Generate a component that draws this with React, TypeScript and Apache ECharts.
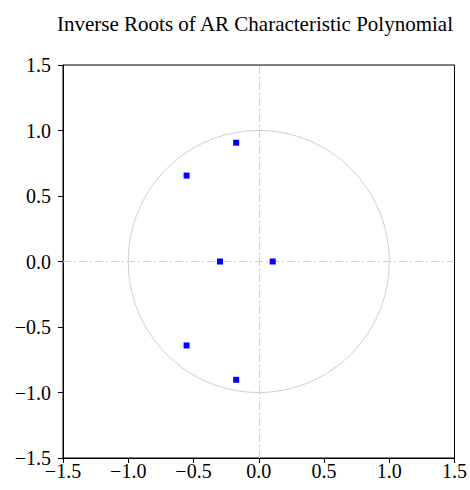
import React, { useEffect, useRef } from "react";
import * as echarts from "echarts";

const titleText = "Inverse Roots of AR Characteristic Polynomial";
const rootRe = [-0.173, -0.553, -0.297, 0.107, -0.553, -0.173];
const rootIm = [0.907, 0.656, 0.0, 0.0, -0.641, -0.903];
const axisTicks = [-1.5, -1.0, -0.5, 0.0, 0.5, 1.0, 1.5];
const unitRadius = [1];

const fmt = (v: number) => {
  const s = Math.abs(v).toFixed(1);
  return v < -1e-9 ? "\u2212" + s : s;
};

export default function App() {
  const ref = useRef<HTMLDivElement>(null);
  useEffect(() => {
    if (!ref.current) return;
    const chart = echarts.init(ref.current, undefined, { renderer: "svg" });
    const font = "'Liberation Serif', 'Times New Roman', serif";
    const axisCommon = {
      type: "value" as const,
      min: axisTicks[0],
      max: axisTicks[axisTicks.length - 1],
      interval: 0.5,
      axisLine: { show: true, onZero: false, lineStyle: { color: "#000", width: 1 } },
      axisTick: { show: true, inside: false, length: 5, lineStyle: { color: "#000" } },
      axisLabel: { color: "#000", fontFamily: font, fontSize: 20, formatter: fmt },
      splitLine: { show: false },
    };
    chart.setOption({
      animation: false,
      backgroundColor: "#fff",
      title: {
        text: titleText,
        left: 250,
        top: 8,
        textAlign: "center",
        textStyle: { fontFamily: font, fontSize: 21, fontWeight: "normal", color: "#000" },
      },
      grid: {
        left: 63,
        top: 65,
        width: 394,
        height: 393,
        show: true,
        borderColor: "#000",
        borderWidth: 1,
        backgroundColor: "transparent",
      },
      xAxis: { ...axisCommon, axisLabel: { ...axisCommon.axisLabel, margin: 3 } },
      yAxis: { ...axisCommon, axisLabel: { ...axisCommon.axisLabel, margin: 12 } },
      series: [
        {
          type: "custom",
          coordinateSystem: "cartesian2d",
          data: unitRadius.map((r) => [0, 0, r]),
          renderItem: (params: any, api: any) => {
            const c = api.coord([0, 0]);
            const r = api.value(2);
            const sz = api.size([r, r]);
            return {
              type: "ellipse",
              shape: { cx: c[0], cy: c[1], rx: sz[0], ry: sz[1] },
              style: { fill: "none", stroke: "#cfcfcf", lineWidth: 1 },
              silent: true,
            };
          },
          markLine: {
            silent: true,
            z: 1,
            symbol: "none",
            label: { show: false },
            lineStyle: { color: "#d0d0d0", type: [8, 3, 2, 3], width: 1 },
            data: [{ xAxis: 0 }, { yAxis: 0 }],
          },
          z: 1,
        },
        {
          type: "scatter",
          data: rootRe.map((x, i) => [x, rootIm[i]]),
          symbol: "rect",
          symbolSize: 6,
          itemStyle: { color: "#0000ff", opacity: 1, borderWidth: 0 },
          z: 10,
        },
      ],
    });
    return () => chart.dispose();
  }, []);
  return (
    <div
      ref={ref}
      style={{ position: "absolute", left: 0, top: 0, width: 470, height: 490 }}
    />
  );
}
